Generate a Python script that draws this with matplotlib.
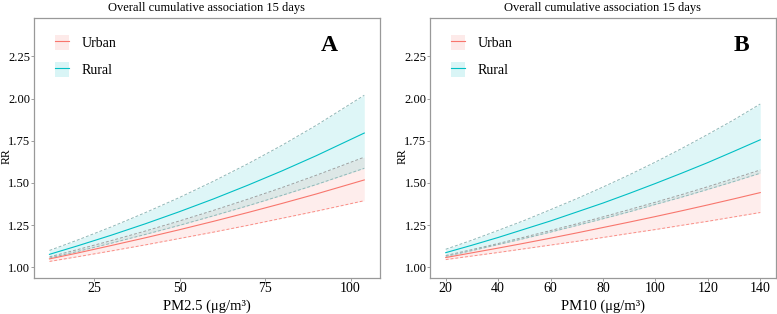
import matplotlib
matplotlib.use("Agg")
import matplotlib.pyplot as plt
from matplotlib.patches import Patch
from matplotlib.lines import Line2D

plt.rcParams['font.family'] = ['Liberation Serif', 'DejaVu Serif']

# panel A: PM2.5
pm25 = [12, 20, 30, 40, 50, 60, 70, 80, 90, 104]
a_urban_fit = [1.050, 1.084, 1.129, 1.175, 1.223, 1.273, 1.325, 1.379, 1.435, 1.518]
a_urban_low = [1.035, 1.062, 1.097, 1.133, 1.171, 1.209, 1.249, 1.291, 1.333, 1.395]
a_urban_high = [1.062, 1.104, 1.158, 1.215, 1.275, 1.338, 1.404, 1.473, 1.546, 1.653]
a_rural_fit = [1.077, 1.126, 1.190, 1.258, 1.330, 1.406, 1.487, 1.572, 1.662, 1.796]
a_rural_low = [1.055, 1.093, 1.143, 1.195, 1.249, 1.306, 1.365, 1.427, 1.491, 1.587]
a_rural_high = [1.100, 1.160, 1.239, 1.324, 1.414, 1.511, 1.614, 1.724, 1.842, 2.020]

# panel B: PM10
pm10 = [20, 30, 40, 50, 60, 70, 80, 90, 100, 110, 120, 130, 140]
b_urban_fit = [1.058, 1.086, 1.114, 1.143, 1.173, 1.204, 1.236, 1.268, 1.301, 1.335, 1.370, 1.406, 1.443]
b_urban_low = [1.046, 1.067, 1.088, 1.110, 1.132, 1.154, 1.177, 1.201, 1.224, 1.249, 1.273, 1.299, 1.325]
b_urban_high = [1.070, 1.105, 1.141, 1.179, 1.218, 1.258, 1.299, 1.342, 1.386, 1.431, 1.478, 1.527, 1.577]
b_rural_fit = [1.087, 1.131, 1.177, 1.226, 1.275, 1.328, 1.381, 1.438, 1.497, 1.558, 1.621, 1.688, 1.756]
b_rural_low = [1.065, 1.099, 1.135, 1.171, 1.209, 1.248, 1.288, 1.329, 1.373, 1.416, 1.462, 1.509, 1.558]
b_rural_high = [1.107, 1.161, 1.219, 1.278, 1.342, 1.407, 1.476, 1.548, 1.624, 1.704, 1.788, 1.875, 1.968]

yticks = [1.00, 1.25, 1.50, 1.75, 2.00, 2.25]
title = "Overall cumulative association 15 days"

RED = "#F8766D"
CYAN = "#00BFC4"

fig = plt.figure(figsize=(7.77, 3.14), dpi=100)
axA = fig.add_axes([0.0434, 0.1137, 0.4457, 0.828])
axB = fig.add_axes([0.5534, 0.1137, 0.4453, 0.828])


def draw_panel(ax, x, uf, ul, uh, rf, rl, rh, xlim, xticks, xlabel, tag, tag_x):
    ax.fill_between(x, ul, uh, color=RED, alpha=0.13, lw=0)
    ax.fill_between(x, rl, rh, color=CYAN, alpha=0.13, lw=0)
    ax.plot(x, ul, color=RED, ls=(0, (3, 2)), lw=0.7, alpha=0.8)
    ax.plot(x, uh, color="#a0a0a0", ls=(0, (3, 2)), lw=0.7)
    ax.plot(x, rl, color="#8fb8b8", ls=(0, (3, 2)), lw=0.7)
    ax.plot(x, rh, color="#8fb8b8", ls=(0, (3, 2)), lw=0.7)
    ax.plot(x, uf, color=RED, lw=0.8)
    ax.plot(x, rf, color=CYAN, lw=0.8)

    ax.set_xlim(*xlim)
    ax.set_ylim(0.935, 2.476)
    ax.set_xticks(xticks)
    ax.set_yticks(yticks)
    ax.set_yticklabels([f"{v:.2f}" for v in yticks])
    ax.tick_params(labelsize=9, length=2, width=0.5, color="#777777", pad=0.5)
    ax.tick_params(axis="x", labelsize=10, pad=1)
    for s in ax.spines.values():
        s.set_color("#999999")
        s.set_linewidth(0.9)
    ax.set_title(title, fontsize=9, pad=5)
    ax.set_xlabel(xlabel, fontsize=10.5, labelpad=3)
    ax.set_ylabel("RR", fontsize=8.5, va="center")
    ax.yaxis.set_label_coords(-0.079, 0.468)
    ax.text(tag_x, 2.315, tag, fontsize=17, fontweight="bold", ha="center", va="center")

    handles = [
        (Patch(facecolor=RED, alpha=0.15, lw=0), Line2D([], [], color=RED, lw=0.8)),
        (Patch(facecolor=CYAN, alpha=0.15, lw=0), Line2D([], [], color=CYAN, lw=0.8)),
    ]
    ax.legend(handles, ["Urban", "Rural"], loc="upper left", bbox_to_anchor=(0.025, 0.985),
              frameon=False, fontsize=10, handlelength=1.0, handleheight=1.3,
              labelspacing=0.85, handletextpad=0.9)


draw_panel(axA, pm25, a_urban_fit, a_urban_low, a_urban_high,
           a_rural_fit, a_rural_low, a_rural_high,
           (7.4, 108.6), [25, 50, 75, 100], "PM2.5 (μg/m³)", "A", 93.7)
draw_panel(axB, pm10, b_urban_fit, b_urban_low, b_urban_high,
           b_rural_fit, b_rural_low, b_rural_high,
           (14, 146), [20, 40, 60, 80, 100, 120, 140], "PM10 (μg/m³)", "B", 132.7)

fig.savefig("out.png", dpi=100)
